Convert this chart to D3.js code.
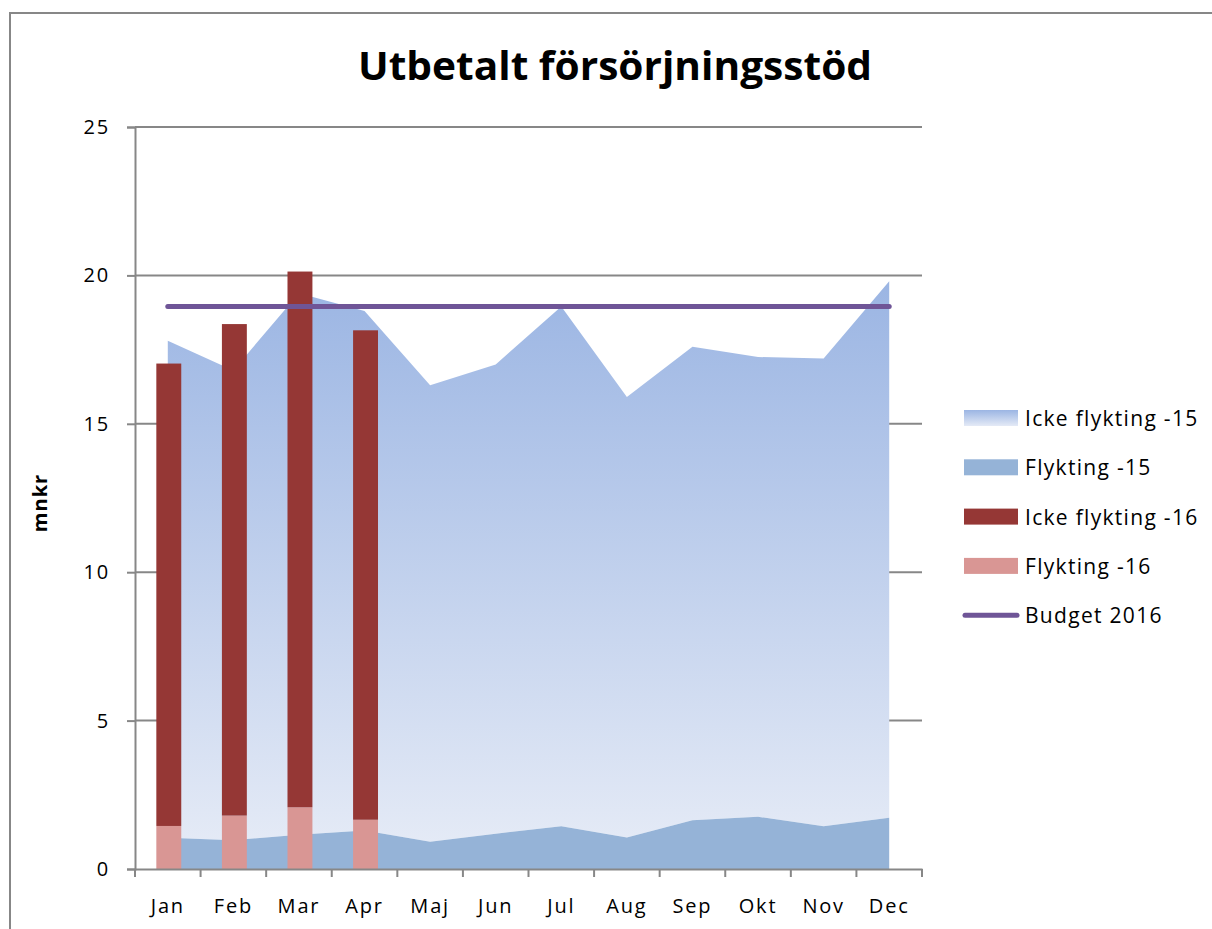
<!DOCTYPE html>
<html>
<head>
<meta charset="utf-8">
<script src="https://cdn.jsdelivr.net/npm/d3@7"></script>
<style>
  body { margin: 0; background: #fff; }
  text { font-family: "Open Sans", "Noto Sans", sans-serif; fill: #000; }
</style>
</head>
<body>
<div id="chart"></div>
<script>
const months = ["Jan","Feb","Mar","Apr","Maj","Jun","Jul","Aug","Sep","Okt","Nov","Dec"];
// 2015 (areas)
const flykting15 = [1.05, 0.97, 1.15, 1.30, 0.92, 1.19, 1.44, 1.06, 1.64, 1.76, 1.44, 1.73];
const ickeFlykting15 = [16.75, 15.83, 18.25, 17.50, 15.38, 15.81, 17.51, 14.84, 15.96, 15.49, 15.76, 18.07];
// 2016 (bars)
const months16 = ["Jan","Feb","Mar","Apr"];
const flykting16 = [1.45, 1.80, 2.08, 1.66];
const ickeFlykting16 = [15.58, 16.56, 18.05, 16.49];
const budget2016 = 18.95;
const yTicks = [0, 5, 10, 15, 20, 25];

const width = 1212, height = 929;
const plot = { left: 135, right: 922, top: 127, bottom: 869 };
const gray = "#878787";

const svg = d3.select("#chart").append("svg")
  .attr("width", width)
  .attr("height", height);

const defs = svg.append("defs");
const grad = defs.append("linearGradient")
  .attr("id", "areaGrad")
  .attr("x1", 0).attr("y1", 0).attr("x2", 0).attr("y2", 1);
grad.append("stop").attr("offset", "0%").attr("stop-color", "#9bb5e3");
grad.append("stop").attr("offset", "100%").attr("stop-color", "#e4eaf6");

// outer chart border
svg.append("rect")
  .attr("x", 10).attr("y", 13)
  .attr("width", 1240).attr("height", 960)
  .attr("fill", "none")
  .attr("stroke", gray)
  .attr("stroke-width", 2);

// title
svg.append("text")
  .text("Utbetalt försörjningsstöd")
  .attr("x", 615).attr("y", 80)
  .attr("text-anchor", "middle")
  .style("font-size", "40px")
  .style("font-weight", "bold")
  .attr("textLength", 514)
  .attr("lengthAdjust", "spacingAndGlyphs");

const x = d3.scaleBand()
  .domain(months)
  .range([plot.left, plot.right])
  .padding(0);
const cx = m => x(m) + x.bandwidth() / 2;

const y = d3.scaleLinear()
  .domain([0, 25])
  .range([plot.bottom, plot.top]);

// gridlines
svg.append("g")
  .selectAll("line")
  .data(yTicks.filter(d => d > 0))
  .enter()
  .append("line")
  .attr("x1", plot.left).attr("x2", plot.right)
  .attr("y1", d => y(d)).attr("y2", d => y(d))
  .attr("stroke", gray)
  .attr("stroke-width", 2);

// stacked areas 2015
const rows15 = months.map((m, i) => ({ month: m, flykting: flykting15[i], icke: ickeFlykting15[i] }));
const stack15 = d3.stack().keys(["flykting", "icke"])(rows15);

const area = d3.area()
  .x(d => cx(d.data.month))
  .y0(d => y(d[0]))
  .y1(d => y(d[1]));

svg.append("path")
  .datum(stack15[1])
  .attr("d", area)
  .attr("fill", "url(#areaGrad)");

svg.append("path")
  .datum(stack15[0])
  .attr("d", area)
  .attr("fill", "#95b3d7");

// stacked bars 2016
const rows16 = months16.map((m, i) => ({ month: m, flykting: flykting16[i], icke: ickeFlykting16[i] }));
const stack16 = d3.stack().keys(["flykting", "icke"])(rows16);
const barColors = ["#d99694", "#953735"];
const barW = x.bandwidth() * 0.38;

svg.append("g")
  .selectAll("g")
  .data(stack16)
  .enter()
  .append("g")
  .attr("fill", (d, i) => barColors[i])
  .selectAll("rect")
  .data(d => d)
  .enter()
  .append("rect")
  .attr("x", d => cx(d.data.month) - barW / 2 + 1)
  .attr("y", d => y(d[1]))
  .attr("width", barW)
  .attr("height", d => y(d[0]) - y(d[1]));

// budget line
const budgetLine = d3.line()
  .x(d => cx(d))
  .y(() => y(budget2016));

svg.append("path")
  .datum([months[0], months[months.length - 1]])
  .attr("d", budgetLine)
  .attr("fill", "none")
  .attr("stroke", "#6f5597")
  .attr("stroke-width", 5)
  .attr("stroke-linecap", "round");

// axes
const yAxis = d3.axisLeft(y)
  .tickValues(yTicks)
  .tickSize(8)
  .tickPadding(17);

const yG = svg.append("g")
  .attr("transform", `translate(${plot.left},0)`)
  .call(yAxis);
yG.select(".domain").attr("stroke", gray).attr("stroke-width", 2);
yG.selectAll(".tick line").attr("stroke", gray).attr("stroke-width", 2);
yG.selectAll(".tick text")
  .style("font-size", "20px")
  .style("letter-spacing", "1.8px")
  .style("font-family", "'Open Sans', sans-serif");

const xAxis = d3.axisBottom(x)
  .tickSize(0)
  .tickPadding(30);

const xG = svg.append("g")
  .attr("transform", `translate(0,${plot.bottom})`)
  .call(xAxis);
xG.select(".domain").attr("stroke", gray).attr("stroke-width", 2);
xG.selectAll(".tick text")
  .style("font-size", "20px")
  .style("letter-spacing", "1.8px")
  .style("font-family", "'Open Sans', sans-serif");

// x ticks at category boundaries
xG.append("g")
  .selectAll("line")
  .data(months.map(m => x(m)).concat([plot.right]))
  .enter()
  .append("line")
  .attr("x1", d => d).attr("x2", d => d)
  .attr("y1", 0).attr("y2", 8)
  .attr("stroke", gray)
  .attr("stroke-width", 2);

// y label
svg.append("text")
  .text("mnkr")
  .attr("transform", `translate(47,503) rotate(-90)`)
  .attr("text-anchor", "middle")
  .style("font-size", "20px")
  .style("letter-spacing", "1px")
  .style("font-weight", "bold");

// legend
const legendItems = [
  { label: "Icke flykting -15", fill: "url(#areaGrad)", type: "rect" },
  { label: "Flykting -15", fill: "#95b3d7", type: "rect" },
  { label: "Icke flykting -16", fill: "#953735", type: "rect" },
  { label: "Flykting -16", fill: "#d99694", type: "rect" },
  { label: "Budget 2016", fill: "#6f5597", type: "line" }
];

const legend = svg.append("g")
  .attr("transform", "translate(963,418)");

const li = legend.selectAll("g")
  .data(legendItems)
  .enter()
  .append("g")
  .attr("transform", (d, i) => `translate(0,${i * 49.3})`);

li.filter(d => d.type === "rect")
  .append("rect")
  .attr("x", 1).attr("y", -8)
  .attr("width", 54).attr("height", 16)
  .attr("fill", d => d.fill);

li.filter(d => d.type === "line")
  .append("line")
  .attr("x1", 2).attr("x2", 54)
  .attr("y1", 0).attr("y2", 0)
  .attr("stroke", d => d.fill)
  .attr("stroke-width", 5)
  .attr("stroke-linecap", "round");

li.append("text")
  .text(d => d.label)
  .attr("x", 62)
  .attr("y", 8)
  .style("font-size", "21px")
  .style("letter-spacing", "1.3px");
</script>
</body>
</html>
